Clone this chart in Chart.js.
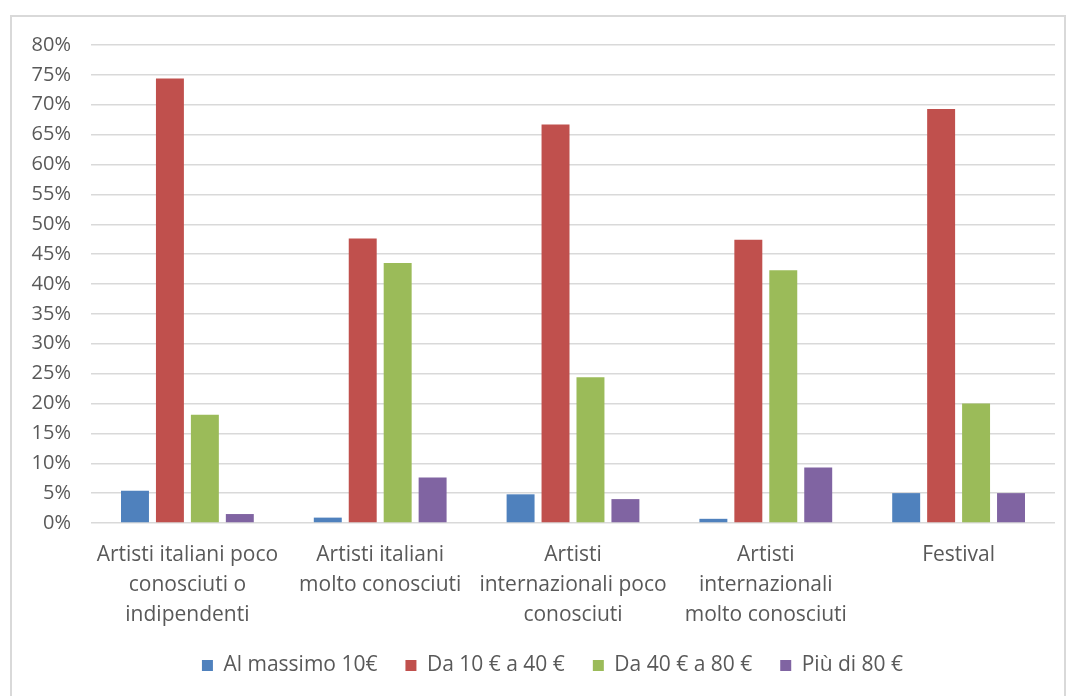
<!DOCTYPE html>
<html>
<head>
<meta charset="utf-8">
<script src="https://cdn.jsdelivr.net/npm/chart.js@4"></script>
<style>
  html, body { margin: 0; padding: 0; background: #fff; overflow: hidden; }
  #frame {
    position: absolute; left: 10px; top: 15px; width: 1056px; height: 700px;
    border: 2px solid #d9d9d9; box-sizing: border-box;
  }
  canvas { position: absolute; left: 0; top: 0; }
</style>
</head>
<body>
<div id="frame"></div>
<canvas id="chart" width="1069" height="696"></canvas>
<script>
// categories and series (percent)
var categories = [
  ["Artisti italiani poco", "conosciuti o", "indipendenti"],
  ["Artisti italiani", "molto conosciuti"],
  ["Artisti", "internazionali poco", "conosciuti"],
  ["Artisti", "internazionali", "molto conosciuti"],
  ["Festival"]
];
var seriesNames = ["Al massimo 10€", "Da 10 € a 40 €", "Da 40 € a 80 €", "Più di 80 €"];
var upTo10 = [5.4, 0.9, 4.8, 0.7, 5.0];
var from10to40 = [74.4, 47.6, 66.7, 47.4, 69.3];
var from40to80 = [18.1, 43.5, 24.4, 42.3, 20.0];
var over80 = [1.5, 7.6, 4.0, 9.3, 5.0];
var colors = ["#4F81BD", "#C0504D", "#9BBB59", "#8064A2"];

var grey = "#595959";
var font = "'Open Sans', sans-serif";

// nudge legend to the right and stop the x labels being clipped by the legend box
var tweakLayout = {
  id: "tweakLayout",
  afterLayout: function(chart) {
    chart.legend.left += 25;
    chart.legend.right += 25;
    chart.scales.x.bottom += 40;
  }
};

var ctx = document.getElementById("chart").getContext("2d");
var chart = new Chart(ctx, {
  type: "bar",
  data: {
    labels: categories,
    datasets: [upTo10, from10to40, from40to80, over80].map(function(vals, i) {
      return {
        label: seriesNames[i],
        data: vals,
        backgroundColor: colors[i],
        borderWidth: 0,
        categoryPercentage: 0.725,
        barPercentage: 0.8
      };
    })
  },
  plugins: [tweakLayout],
  options: {
    responsive: false,
    animation: false,
    devicePixelRatio: 1,
    layout: { padding: { left: 0, right: 14, top: 45, bottom: 10 } },
    plugins: {
      tooltip: { enabled: false },
      legend: {
        position: "bottom",
        labels: {
          color: grey,
          boxWidth: 11,
          boxHeight: 11,
          padding: 28,
          font: { family: font, size: 21 }
        }
      }
    },
    scales: {
      x: {
        grid: { display: false },
        border: { display: false },
        afterFit: function(scale) { scale.height -= 12; },
        ticks: {
          color: grey,
          autoSkip: false,
          maxRotation: 0,
          minRotation: 0,
          padding: 9,
          font: { family: font, size: 21, lineHeight: 30 / 21 }
        }
      },
      y: {
        min: 0,
        max: 80,
        border: { display: false },
        grid: { color: "#d9d9d9", lineWidth: 1.5, drawTicks: false },
        afterFit: function(scale) { scale.width = 91; },
        ticks: {
          stepSize: 5,
          color: grey,
          padding: 20,
          font: { family: font, size: 20 },
          callback: function(v) { return v + "%"; }
        }
      }
    }
  }
});
</script>
</body>
</html>
